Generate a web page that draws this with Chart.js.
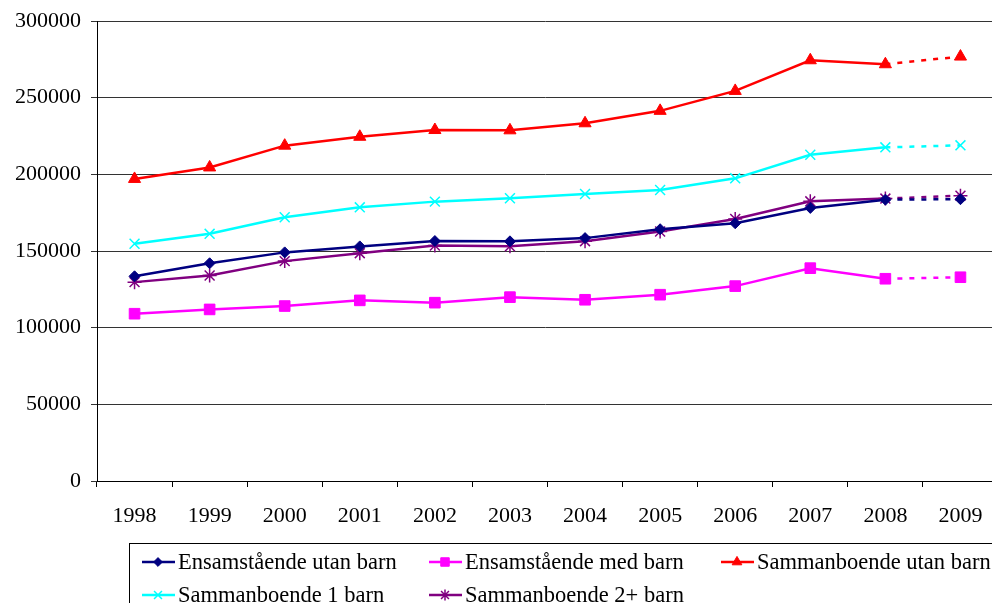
<!DOCTYPE html>
<html>
<head>
<meta charset="utf-8">
<script src="https://cdn.jsdelivr.net/npm/chart.js@4/dist/chart.umd.min.js"></script>
<style>
  html, body { margin: 0; padding: 0; background: #fff; overflow: hidden; }
  #wrap { position: relative; width: 992px; height: 603px; }
</style>
</head>
<body>
<div id="wrap"><canvas id="chart" width="992" height="603"></canvas></div>
<script>
const years = ["1998", "1999", "2000", "2001", "2002", "2003", "2004", "2005", "2006", "2007", "2008", "2009"];

const ensamUtan = [133500, 142000, 149100, 153000, 156500, 156300, 158400, 164200, 168100, 178100, 183500, 183800];
const ensamMed = [109100, 111900, 114100, 117800, 116300, 119900, 118200, 121500, 127100, 138800, 131900, 132900];
const sammanUtan = [197000, 204500, 218700, 224500, 228900, 228700, 233300, 241400, 254400, 274400, 271800, 276800];
const samman1 = [154700, 161200, 172000, 178500, 182200, 184400, 187200, 189800, 197400, 212800, 217600, 218900];
const samman2 = [129700, 134000, 143400, 148600, 153600, 153100, 156400, 162700, 170900, 182400, 184200, 186100];

const serif = "'Liberation Serif', 'Times New Roman', serif";

// last segment (2008 -> 2009) is dashed
const dashLast = ctx => ctx.p0DataIndex === years.length - 2 ? [5, 7] : undefined;

function series(label, data, color, style, radius, filled) {
    return {
        label: label,
        data: data,
        borderColor: color,
        backgroundColor: filled ? color : "transparent",
        pointBackgroundColor: filled ? color : "transparent",
        pointBorderColor: color,
        pointBorderWidth: filled ? 1 : 1.5,
        pointStyle: style,
        pointRadius: radius,
        pointHoverRadius: radius,
        borderWidth: 2.5,
        tension: 0,
        segment: { borderDash: dashLast }
    };
}

const datasets = [
    series("Ensamstående utan barn", ensamUtan, "#000080", "rectRot", 5.5, true),
    series("Ensamstående med barn", ensamMed, "#FF00FF", "rect", 7.5, true),
    series("Sammanboende utan barn", sammanUtan, "#FF0000", "triangle", 7, true),
    series("Sammanboende 1 barn", samman1, "#00FFFF", "crossRot", 7, false),
    series("Sammanboende 2+ barn", samman2, "#800080", "star", 7, false)
];

// legend drawn in the box under the chart
const legendPos = [
    [142, 562], [429, 562], [721, 562],
    [142, 595], [429, 595]
];

const boxLegend = {
    id: "boxLegend",
    afterDraw(chart) {
        const ctx = chart.ctx;
        ctx.save();
        ctx.strokeStyle = "#000";
        ctx.lineWidth = 1;
        ctx.strokeRect(129.5, 543.5, 900, 100);
        ctx.font = "22.5px " + serif;
        ctx.textBaseline = "middle";
        datasets.forEach((ds, i) => {
            const [x, y] = legendPos[i];
            ctx.strokeStyle = ds.borderColor;
            ctx.lineWidth = 2.5;
            ctx.beginPath();
            ctx.moveTo(x, y);
            ctx.lineTo(x + 33, y);
            ctx.stroke();
            ctx.fillStyle = ds.pointBackgroundColor;
            ctx.strokeStyle = ds.pointBorderColor;
            ctx.lineWidth = ds.pointBorderWidth;
            Chart.helpers.drawPoint(ctx, {
                pointStyle: ds.pointStyle,
                radius: ds.pointRadius * 0.8,
                rotation: 0,
                borderWidth: ds.pointBorderWidth
            }, x + 16, y);
            ctx.fillStyle = "#000";
            ctx.fillText(ds.label, x + 36, y + 1);
        });
        ctx.restore();
    }
};

// the plot area in the original runs a few pixels past the right edge
const wideX = {
    id: "wideX",
    afterLayout(chart) {
        const x = chart.scales.x;
        x.right = x.left + 901;
        x.width = 901;
        x.configure();
        chart.chartArea.right = x.right;
        chart.chartArea.width = 901;
    }
};

new Chart(document.getElementById("chart"), {
    type: "line",
    data: { labels: years, datasets: datasets },
    plugins: [wideX, boxLegend],
    options: {
        responsive: false,
        animation: false,
        layout: { autoPadding: false, padding: { top: 20, right: 0, bottom: 72, left: 0 } },
        plugins: {
            legend: { display: false },
            tooltip: { enabled: false }
        },
        scales: {
            x: {
                offset: true,
                afterFit: s => { s.height = 50; },
                grid: {
                    display: true,
                    offset: true,
                    drawOnChartArea: false,
                    tickLength: 6,
                    color: "#000"
                },
                border: { color: "#000", width: 1 },
                ticks: {
                    color: "#000",
                    font: { family: serif, size: 22 },
                    padding: 16,
                    maxRotation: 0
                }
            },
            y: {
                min: 0,
                max: 300000,
                afterFit: s => { s.width = 97; },
                grid: {
                    color: "#333",
                    lineWidth: 1,
                    tickLength: 6
                },
                border: { color: "#000", width: 1 },
                ticks: {
                    stepSize: 50000,
                    color: "#000",
                    font: { family: serif, size: 22, lineHeight: 1 },
                    padding: 10,
                    callback: v => String(v)
                }
            }
        }
    }
});
</script>
</body>
</html>
